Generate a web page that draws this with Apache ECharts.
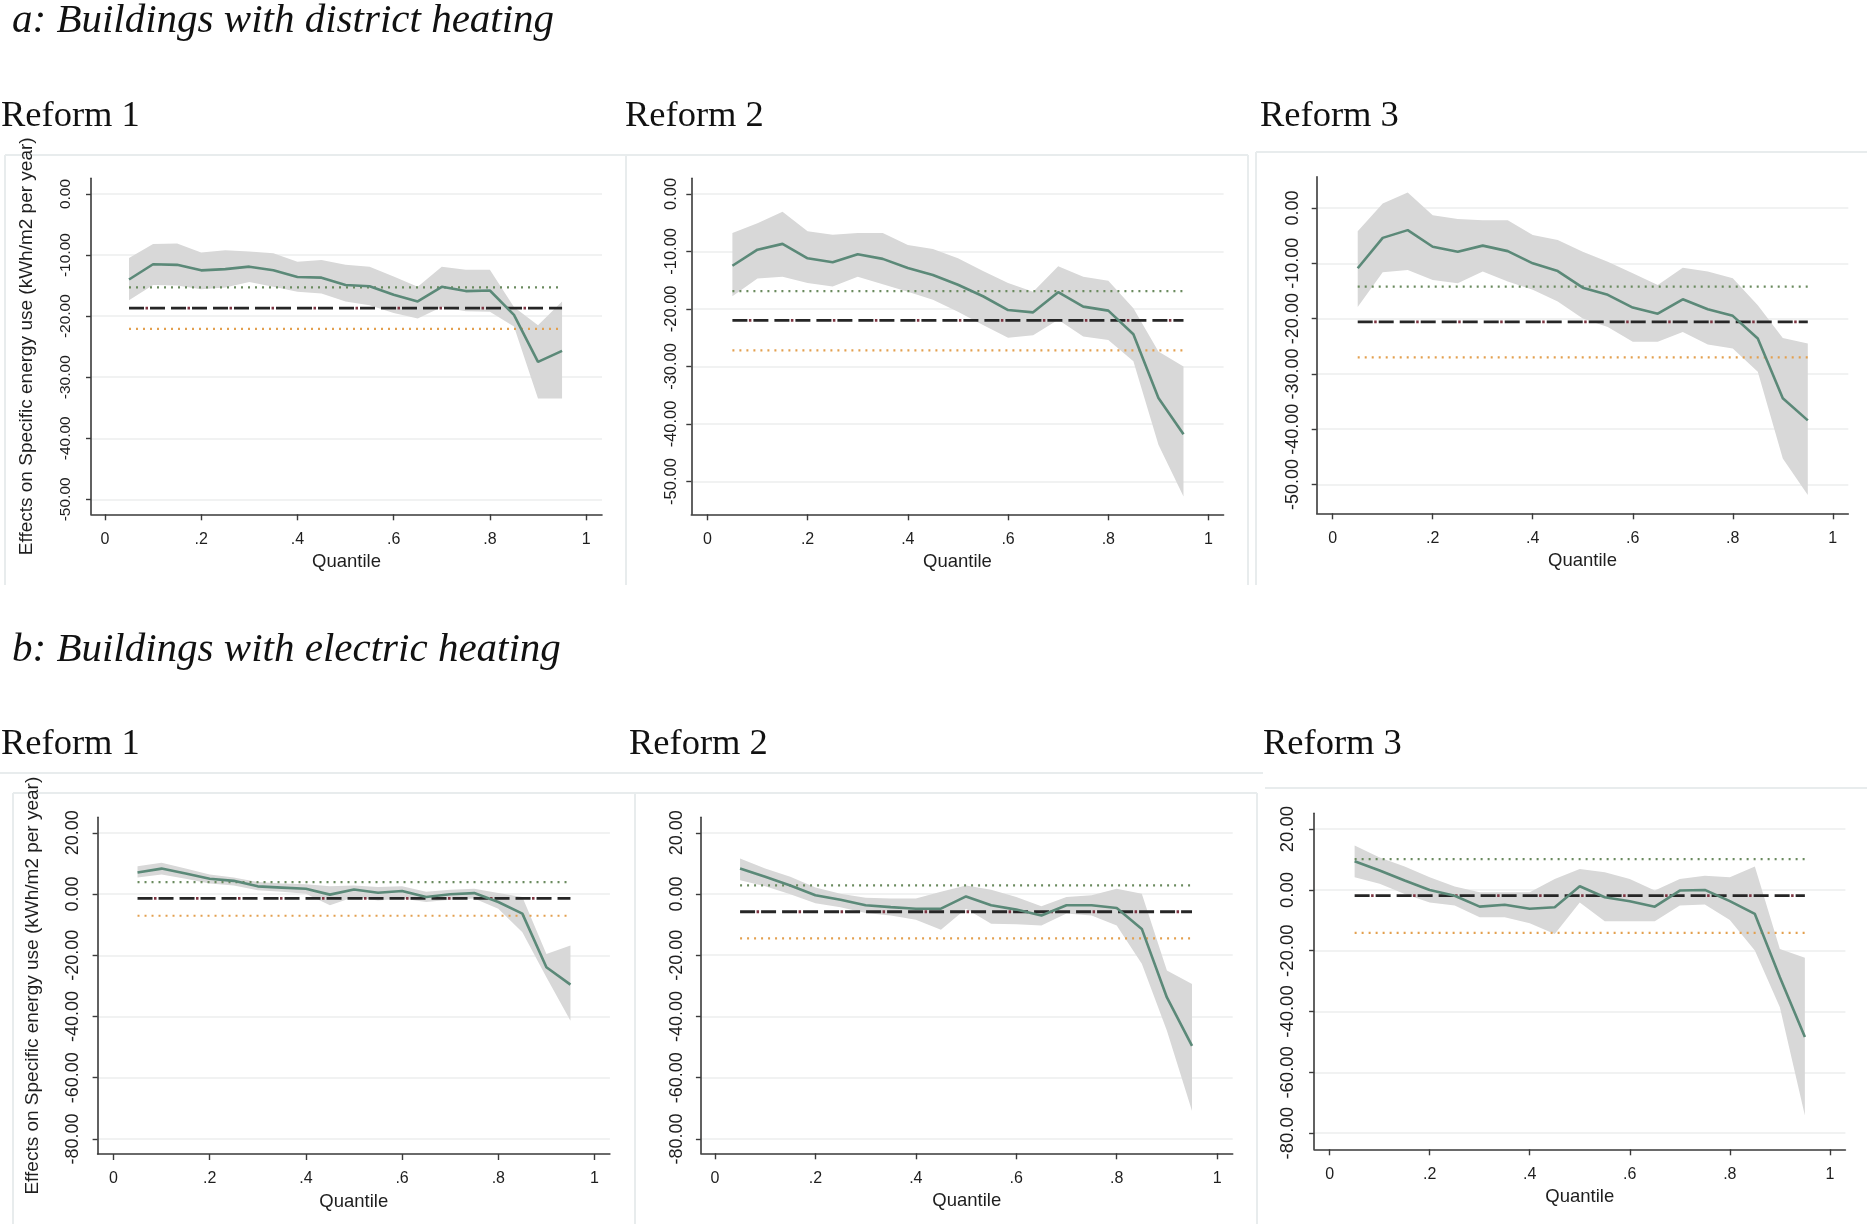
<!DOCTYPE html>
<html>
<head>
<meta charset="utf-8">
<script src="https://cdn.jsdelivr.net/npm/echarts@6/dist/echarts.min.js"></script>
<style>
html,body{margin:0;padding:0;background:#ffffff;}
#c{width:1867px;height:1224px;}
</style>
</head>
<body>
<div id="c"></div>
<script>
// ---------------- DATA ----------------
const quantiles = [0.05,0.10,0.15,0.20,0.25,0.30,0.35,0.40,0.45,0.50,0.55,0.60,0.65,0.70,0.75,0.80,0.85,0.90,0.95];
const xTicks = [0,0.2,0.4,0.6,0.8,1];
const xTickLabels = ['0','.2','.4','.6','.8','1'];
const yTicksA = [-50,-40,-30,-20,-10,0];
const yTicksB = [-80,-60,-40,-20,0,20];

const sectionTitles = ['a: Buildings with district heating','b: Buildings with electric heating'];
const panelTitles = ['Reform 1','Reform 2','Reform 3'];
const yAxisTitle = 'Effects on Specific energy use (kWh/m2 per year)';
const xAxisTitle = 'Quantile';

// a: district heating
const a1Estimate = [-14.0,-11.5,-11.6,-12.5,-12.3,-11.9,-12.5,-13.6,-13.7,-14.9,-15.1,-16.5,-17.6,-15.2,-15.9,-15.8,-19.8,-27.5,-25.7];
const a1Upper    = [-10.5,-8.2,-8.1,-9.6,-9.2,-9.4,-9.7,-11.1,-10.8,-11.6,-11.9,-13.5,-15.2,-11.9,-12.4,-12.4,-18.5,-21.5,-17.6];
const a1Lower    = [-17.4,-14.9,-15.0,-15.6,-15.3,-14.4,-15.2,-16.0,-16.3,-17.6,-18.2,-19.5,-20.4,-18.5,-19.2,-19.3,-21.7,-33.5,-33.5];
const a1RefLines = [-15.3,-18.7,-22.1]; // upper bound, mean effect, lower bound

const a2Estimate = [-12.5,-9.7,-8.7,-11.2,-11.9,-10.5,-11.3,-12.9,-14.1,-15.8,-17.8,-20.2,-20.6,-17.1,-19.6,-20.3,-24.4,-35.5,-41.8];
const a2Upper    = [-6.8,-5.1,-3.1,-6.5,-7.1,-6.8,-6.8,-8.9,-9.6,-11.2,-13.4,-15.5,-17.0,-12.6,-14.4,-15.1,-19.9,-27.4,-30.0];
const a2Lower    = [-17.8,-14.7,-14.4,-15.5,-16.1,-14.4,-15.7,-17.0,-18.4,-20.5,-22.8,-25.0,-24.6,-21.9,-24.8,-25.4,-29.1,-43.6,-52.6];
const a2RefLines = [-16.9,-22.0,-27.2];

const a3Estimate = [-10.9,-5.4,-4.0,-7.0,-7.9,-6.8,-7.8,-10.0,-11.4,-14.4,-15.7,-18.0,-19.1,-16.5,-18.3,-19.5,-23.6,-34.4,-38.4];
const a3Upper    = [-4.2,0.8,2.8,-1.3,-2.0,-2.2,-2.2,-4.9,-5.8,-7.9,-9.7,-11.8,-13.9,-10.8,-11.5,-12.7,-17.6,-23.5,-24.5];
const a3Lower    = [-17.9,-11.6,-11.2,-13.0,-13.6,-11.5,-13.3,-14.8,-16.9,-20.0,-21.5,-24.2,-24.2,-22.4,-24.7,-25.4,-29.6,-45.3,-51.9];
const a3RefLines = [-14.2,-20.6,-27.0];

// b: electric heating
const b1Estimate = [7.0,8.3,6.7,5.0,4.3,2.5,2.1,1.7,-0.2,1.5,0.4,1.0,-1.0,-0.1,0.3,-2.6,-6.4,-23.9,-29.6];
const b1Upper    = [9.1,10.2,8.3,6.4,5.4,3.9,3.4,3.2,2.5,2.8,2.3,2.5,0.7,1.4,1.7,0.3,-1.0,-19.6,-16.8];
const b1Lower    = [5.4,6.4,5.0,3.4,2.8,1.2,0.7,0.1,-3.7,-1.0,-2.1,-1.5,-2.6,-1.9,-1.5,-4.8,-12.5,-27.2,-41.4];
const b1RefLines = [3.9,-1.4,-7.1];

const b2Estimate = [8.3,5.6,2.8,-0.4,-1.9,-3.7,-4.3,-4.8,-4.8,-0.8,-3.7,-5.1,-7.0,-3.7,-3.7,-4.6,-11.4,-33.8,-49.6];
const b2Upper    = [11.6,8.3,5.6,2.1,0.1,-1.2,-1.5,-1.5,0.7,2.8,1.4,-1.0,-4.0,-1.0,-0.4,1.7,0.1,-25.0,-29.4];
const b2Lower    = [4.5,2.5,-0.1,-3.0,-4.3,-6.2,-7.0,-8.4,-11.7,-4.8,-9.7,-9.9,-10.3,-6.4,-7.0,-10.3,-22.8,-44.7,-70.9];
const b2RefLines = [2.8,-5.8,-14.5];

const b3Estimate = [9.4,6.4,3.1,0.0,-1.9,-5.5,-4.9,-6.2,-5.7,1.2,-2.4,-3.7,-5.5,-0.2,0.0,-3.7,-7.9,-28.7,-48.4];
const b3Upper    = [14.6,10.7,7.7,4.2,1.1,-0.8,-0.8,-0.8,3.6,6.9,5.8,3.6,-0.2,3.6,4.7,4.2,7.7,-19.4,-22.3];
const b3Lower    = [4.2,2.0,-1.3,-4.1,-5.1,-9.0,-9.0,-11.0,-14.5,-4.1,-10.3,-10.3,-10.3,-5.1,-4.8,-9.9,-19.9,-38.6,-74.2];
const b3RefLines = [10.1,-1.9,-14.1];

// ---------------- LAYOUT / STYLE ----------------
const SANS = "'Liberation Sans', Arial, Helvetica, sans-serif";
const SERIF = "'Liberation Serif', 'Times New Roman', serif";
const AXIS_COLOR = '#3a3a3a';
const TEXT_COLOR = '#1e1e1e';
const LINE_COLOR = '#5b8978';
const BAND_COLOR = '#d8d8d8';
const GRID_COLOR = '#eceeee';
const FRAME_COLOR = '#e8eced';

const panels = [
  {est:a1Estimate, up:a1Upper, lo:a1Lower, ref:a1RefLines, yTicks:yTicksA, showYName:true,
   box:{left:91, top:178.3, width:511, height:336}, xr:[-0.029,1.033], yr:[-52.45,2.57], yFont:15.5, yMargin:17},
  {est:a2Estimate, up:a2Upper, lo:a2Lower, ref:a2RefLines, yTicks:yTicksA, showYName:false,
   box:{left:691.3, top:178.3, width:532.3, height:336}, xr:[-0.032,1.030], yr:[-55.7,2.7], yFont:16.5, yMargin:11.5},
  {est:a3Estimate, up:a3Upper, lo:a3Lower, ref:a3RefLines, yTicks:yTicksA, showYName:false,
   box:{left:1316.7, top:176.7, width:531.6, height:336.6}, xr:[-0.032,1.031], yr:[-55.2,5.66], yFont:18, yMargin:14.5},
  {est:b1Estimate, up:b1Upper, lo:b1Lower, ref:b1RefLines, yTicks:yTicksB, showYName:true,
   box:{left:97.6, top:817.3, width:512.3, height:336.7}, xr:[-0.033,1.032], yr:[-84.9,25.05], yFont:18, yMargin:15.5},
  {est:b2Estimate, up:b2Upper, lo:b2Lower, ref:b2RefLines, yTicks:yTicksB, showYName:false,
   box:{left:700.9, top:817.3, width:531.8, height:336}, xr:[-0.028,1.031], yr:[-84.7,25.05], yFont:18, yMargin:15},
  {est:b3Estimate, up:b3Upper, lo:b3Lower, ref:b3RefLines, yTicks:yTicksB, showYName:false,
   box:{left:1314.1, top:813.3, width:531.3, height:336}, xr:[-0.031,1.031], yr:[-85.3,25.2], yFont:18.5, yMargin:16.5}
];

function xLabel(v){
  let best = 0, d = Infinity;
  xTicks.forEach((t,i)=>{ const dd = Math.abs(t - v); if (dd < d){ d = dd; best = i; } });
  return xTickLabels[best];
}

const grids = [], xAxes = [], yAxes = [], series = [];

panels.forEach((p, i) => {
  grids.push({left:p.box.left, top:p.box.top, width:p.box.width, height:p.box.height,
              containLabel:false, outerBoundsMode:'none', show:false});
  xAxes.push({
    type:'value', gridIndex:i, min:p.xr[0], max:p.xr[1],
    name:xAxisTitle, nameLocation:'middle', nameGap:38,
    nameTextStyle:{fontFamily:SANS, fontSize:18.5, color:TEXT_COLOR},
    axisLine:{show:true, onZero:false, lineStyle:{color:AXIS_COLOR, width:1.6}},
    axisTick:{show:true, customValues:xTicks, length:6, inside:false, lineStyle:{color:AXIS_COLOR, width:1.4}},
    axisLabel:{show:true, customValues:xTicks, margin:17, fontFamily:SANS, fontSize:16, color:TEXT_COLOR, formatter:xLabel},
    splitLine:{show:false}
  });
  yAxes.push({
    type:'value', gridIndex:i, min:p.yr[0], max:p.yr[1],
    name:p.showYName ? yAxisTitle : '', nameLocation:'middle', nameGap:55, nameRotate:90,
    nameTextStyle:{fontFamily:SANS, fontSize:19, color:TEXT_COLOR},
    axisLine:{show:true, onZero:false, lineStyle:{color:AXIS_COLOR, width:1.6}},
    axisTick:{show:true, customValues:p.yTicks, length:5, inside:false, lineStyle:{color:AXIS_COLOR, width:1.4}},
    axisLabel:{show:true, customValues:p.yTicks, rotate:90, margin:p.yMargin, fontFamily:SANS, fontSize:p.yFont, color:TEXT_COLOR,
               formatter:v => v.toFixed(2)},
    splitLine:{show:true, lineStyle:{color:GRID_COLOR, width:1.5}}
  });

  // confidence band as a polygon through the axes' scales
  const bandData = quantiles.map((q, k) => [q, p.lo[k], p.up[k]]);
  series.push({
    type:'custom', xAxisIndex:i, yAxisIndex:i, z:1, silent:true, clip:true,
    data:bandData,
    encode:{x:0, y:[1,2]},
    renderItem:function(params, api){
      if (params.dataIndex !== 0) return null;
      const pts = [];
      bandData.forEach(d => pts.push(api.coord([d[0], d[2]])));
      for (let k = bandData.length - 1; k >= 0; k--) pts.push(api.coord([bandData[k][0], bandData[k][1]]));
      return {type:'polygon', shape:{points:pts}, style:{fill:BAND_COLOR, stroke:null}};
    }
  });

  const x0 = quantiles[0], x1 = quantiles[quantiles.length - 1];
  // upper reference (green dotted)
  series.push({type:'line', xAxisIndex:i, yAxisIndex:i, z:2, silent:true, symbol:'none', animation:false,
    data:[[x0, p.ref[0]],[x1, p.ref[0]]],
    lineStyle:{color:'#6a8a5e', width:2.2, type:[2,5]}});
  // mean (black long dash) + maroon dots
  series.push({type:'line', xAxisIndex:i, yAxisIndex:i, z:2, silent:true, symbol:'none', animation:false,
    data:[[x0, p.ref[1]],[x1, p.ref[1]]],
    lineStyle:{color:'#262626', width:2.8, type:[15,6]}});
  series.push({type:'line', xAxisIndex:i, yAxisIndex:i, z:2, silent:true, symbol:'none', animation:false,
    data:[[x0, p.ref[1]],[x1, p.ref[1]]],
    lineStyle:{color:'#7d3340', width:2.8, type:[2.5,39.5], dashOffset:-16.5}});
  // lower reference (orange dotted)
  series.push({type:'line', xAxisIndex:i, yAxisIndex:i, z:2, silent:true, symbol:'none', animation:false,
    data:[[x0, p.ref[2]],[x1, p.ref[2]]],
    lineStyle:{color:'#e3a04f', width:2.2, type:[2,5]}});
  // quantile estimates
  series.push({type:'line', xAxisIndex:i, yAxisIndex:i, z:3, silent:true, symbol:'none', animation:false,
    data:quantiles.map((q, k) => [q, p.est[k]]),
    lineStyle:{color:LINE_COLOR, width:2.6}});
});

const titleStyleSection = {fontFamily:SERIF, fontStyle:'italic', fontWeight:'normal', fontSize:41, color:'#111'};
const titleStylePanel = {fontFamily:SERIF, fontStyle:'normal', fontWeight:'normal', fontSize:36.5, color:'#111'};

const titles = [
  {text:sectionTitles[0], left:12, top:1, padding:0, textStyle:titleStyleSection},
  {text:panelTitles[0], left:1, top:98, padding:0, textStyle:titleStylePanel},
  {text:panelTitles[1], left:625, top:98, padding:0, textStyle:titleStylePanel},
  {text:panelTitles[2], left:1260, top:98, padding:0, textStyle:titleStylePanel},
  {text:sectionTitles[1], left:12, top:630, padding:0, textStyle:titleStyleSection},
  {text:panelTitles[0], left:1, top:726, padding:0, textStyle:titleStylePanel},
  {text:panelTitles[1], left:629, top:726, padding:0, textStyle:titleStylePanel},
  {text:panelTitles[2], left:1263, top:726, padding:0, textStyle:titleStylePanel}
];

function frameLine(x1, y1, x2, y2){
  return {type:'line', silent:true, z:-10, shape:{x1:x1, y1:y1, x2:x2, y2:y2}, style:{stroke:FRAME_COLOR, lineWidth:2}};
}
const frames = [
  frameLine(5,155,1248,155), frameLine(5,155,5,585), frameLine(626,155,626,585), frameLine(1248,155,1248,585),
  frameLine(1256,152,1867,152), frameLine(1256,152,1256,585),
  frameLine(0,773,1263,773), frameLine(13,793,1257,793), frameLine(13,793,13,1224),
  frameLine(635,793,635,1224), frameLine(1257,793,1257,1224),
  frameLine(1265,788,1867,788)
];

const chart = echarts.init(document.getElementById('c'), null, {renderer:'canvas', width:1867, height:1224});
chart.setOption({
  backgroundColor:'#ffffff',
  animation:false,
  title:titles,
  grid:grids,
  xAxis:xAxes,
  yAxis:yAxes,
  series:series,
  graphic:frames
});
</script>
</body>
</html>
